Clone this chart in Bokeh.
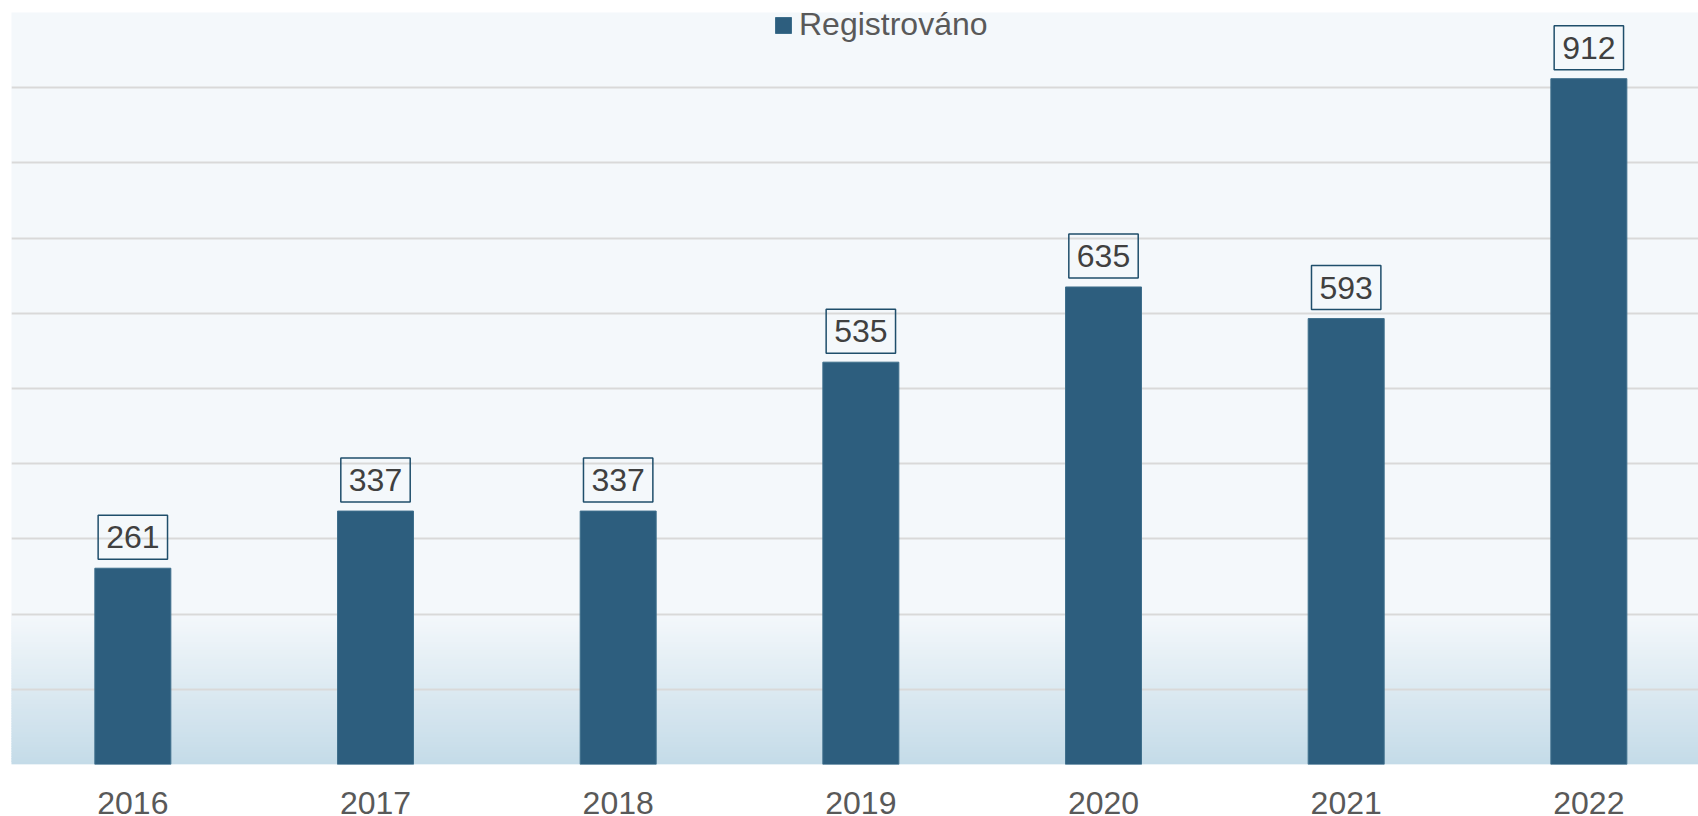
import numpy as np
from bokeh.plotting import figure
from bokeh.models import ColumnDataSource, Label, FixedTicker, Range1d, Legend
from bokeh.embed import file_html
from bokeh.resources import INLINE

years = ["2016", "2017", "2018", "2019", "2020", "2021", "2022"]
registrovano = [261, 337, 337, 535, 635, 593, 912]
y_ticks = [0, 100, 200, 300, 400, 500, 600, 700, 800, 900, 1000]

idx = list(range(len(years)))
src = ColumnDataSource(dict(x=idx, top=registrovano))

p = figure(width=1698, height=816, output_backend="svg", toolbar_location=None,
           x_range=Range1d(-0.5, -0.5 + 1687 / 242.67), y_range=Range1d(0, 1000),
           min_border_left=11, min_border_right=0, min_border_top=12, min_border_bottom=0)
p.background_fill_color = "#f4f8fb"
p.border_fill_color = "white"
p.outline_line_color = None

# gradient in the lower part of the plot area (decoration)
n = 60
edges = np.linspace(0, 200, n + 1)
c0 = np.array([0xc4, 0xdb, 0xe8])
c1 = np.array([0xf4, 0xf8, 0xfb])
cols = []
for i in range(n):
    t = (i + 0.5) / n
    c = (c0 * (1 - t) + c1 * t).round().astype(int)
    cols.append("#%02x%02x%02x" % tuple(c))
g = p.quad(left=-1, right=8, bottom=edges[:-1], top=edges[1:] + 2, fill_color=cols,
           line_color=None)
g.level = "image"

p.ygrid.ticker = FixedTicker(ticks=y_ticks)
p.ygrid.grid_line_color = "#d9d9d9"
p.ygrid.grid_line_width = 2
p.xgrid.grid_line_color = None

bars = p.vbar(x="x", top="top", width=76 / 242.67, source=src, fill_color="#2d5e7e",
              line_color="#3f6f8c", line_width=1)

for xi, v in zip(idx, registrovano):
    p.add_layout(Label(x=xi, y=v, text=str(v), text_align="center",
                       text_baseline="middle", y_offset=31, text_font="Liberation Sans",
                       text_font_size="32px", text_color="#404040",
                       border_line_color="#1f4e6b", border_line_width=1.5,
                       background_fill_color=None, padding=(8, 11)))

p.yaxis.visible = False
p.xaxis.ticker = FixedTicker(ticks=idx)
p.xaxis.major_label_overrides = {i: y for i, y in enumerate(years)}
p.xaxis.axis_line_color = None
p.xaxis.major_tick_line_color = None
p.xaxis.minor_tick_line_color = None
p.xaxis.major_label_text_font = "Liberation Sans"
p.xaxis.major_label_text_font_size = "32px"
p.xaxis.major_label_text_color = "#595959"
p.xaxis.major_label_standoff = 21

legend = Legend(items=[("Registrováno", [bars])], location=(762, 721),
                orientation="horizontal", background_fill_alpha=0, border_line_color=None,
                padding=0, margin=0, spacing=0, glyph_width=20, glyph_height=20,
                label_standoff=6, label_text_font="Liberation Sans",
                label_text_font_size="32px", label_text_color="#595959")
p.add_layout(legend, "center")

open("out.html", "w").write(file_html(p, INLINE))
